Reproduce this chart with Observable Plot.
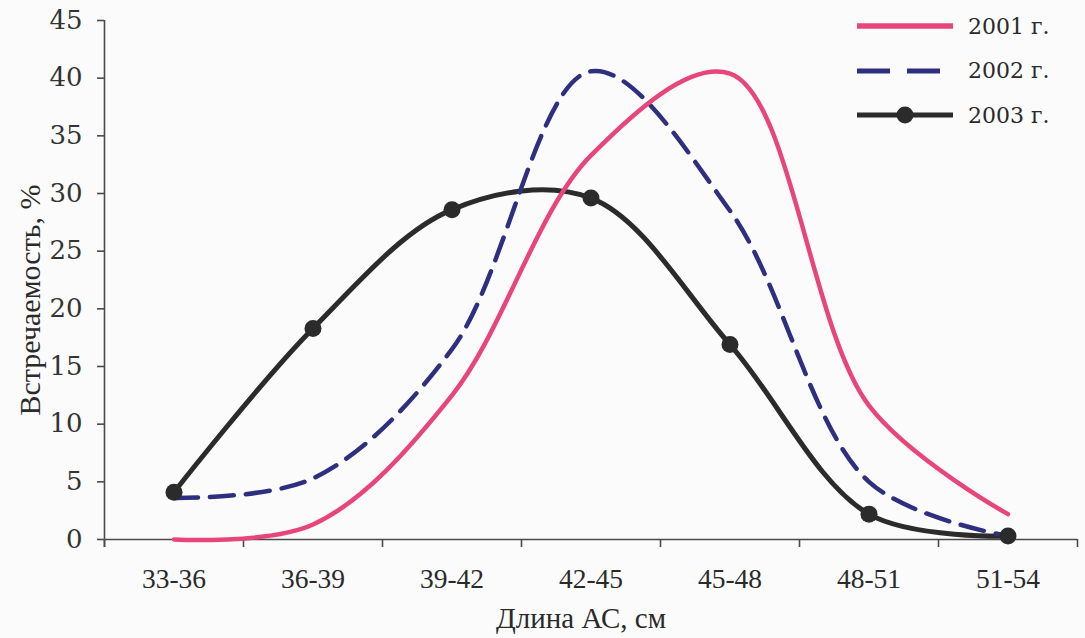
<!DOCTYPE html>
<html>
<head>
<meta charset="utf-8">
<script src="https://cdn.jsdelivr.net/npm/d3@7"></script>
<script src="https://cdn.jsdelivr.net/npm/@observablehq/plot@0.6"></script>
<style>
  html, body { margin: 0; padding: 0; background: #fbfbfc; }
  #wrap { position: relative; width: 1085px; height: 638px; }
  #legend { position: absolute; left: 855px; top: 4px; font-family: "DejaVu Serif", serif; font-size: 22px; color: #2a2a2a; }
  #legend .row { display: flex; align-items: center; height: 44.5px; }
  #legend svg { margin-right: 13px; }
</style>
</head>
<body>
<div id="wrap"><div id="legend"></div></div>
<script>
// Categories (length classes, cm)
const categories = ["33-36", "36-39", "39-42", "42-45", "45-48", "48-51", "51-54"];
// Occurrence, %
const values2001 = [0, 1.3, 12.5, 33.3, 40.4, 11.6, 2.2];
const values2002 = [3.6, 5.3, 16.5, 40.6, 28.5, 5.0, 0.3];
const values2003 = [4.1, 18.3, 28.6, 29.6, 16.9, 2.2, 0.3];
const seriesNames = ["2001 г.", "2002 г.", "2003 г."];
const yTicks = [0, 5, 10, 15, 20, 25, 30, 35, 40, 45];

const colors = {"2001 г.": "#e8467b", "2002 г.": "#2f2f80", "2003 г.": "#2b2b2b"};

const rows = [];
[values2001, values2002, values2003].forEach((vals, s) => {
  vals.forEach((v, i) => rows.push({series: seriesNames[s], i, cat: categories[i], value: v}));
});
const edges = d3.range(-0.5, categories.length, 1);

const axisColor = "#4a4a4a";
const chart = Plot.plot({
  width: 1085,
  height: 638,
  marginLeft: 104,
  marginRight: 8,
  marginTop: 20,
  marginBottom: 99,
  style: {background: "transparent", overflow: "visible"},
  x: {type: "linear", domain: [-0.5, categories.length - 0.5], axis: null},
  y: {domain: [0, 45], axis: null},
  marks: [
    // axis lines
    Plot.ruleY([0], {stroke: axisColor, strokeWidth: 1.6}),
    Plot.ruleX([-0.5], {stroke: axisColor, strokeWidth: 1.6, insetBottom: -8}),
    // y ticks and labels
    Plot.axisY({ticks: yTicks, tickSize: 7, tickPadding: 15, stroke: axisColor, strokeWidth: 1.6,
      fontFamily: "DejaVu Serif", fontSize: 26, fill: "#333", label: null}),
    // x ticks at class boundaries
    Plot.axisX({ticks: edges, tickSize: 8, stroke: axisColor, strokeWidth: 1.6, fill: "none", label: null}),
    // x labels at class centres
    Plot.axisX({ticks: d3.range(categories.length), tickSize: 0, tickPadding: 29,
      tickFormat: i => categories[i], fontFamily: "Liberation Serif", fontSize: 27.5, fill: "#2a2a2a", label: null}),
    // series
    Plot.line(rows.filter(d => d.series === "2003 г."), {x: "i", y: "value", stroke: colors["2003 г."], strokeWidth: 5, curve: "catmull-rom"}),
    Plot.line(rows.filter(d => d.series === "2002 г."), {x: "i", y: "value", stroke: colors["2002 г."], strokeWidth: 4.5, strokeDasharray: "24,12", curve: "catmull-rom"}),
    Plot.line(rows.filter(d => d.series === "2001 г."), {x: "i", y: "value", stroke: colors["2001 г."], strokeWidth: 4.5, curve: "catmull-rom"}),
    Plot.dot(rows.filter(d => d.series === "2003 г."), {x: "i", y: "value", r: 8.5, fill: colors["2003 г."], stroke: "none"}),
    // axis titles
    Plot.text(["Встречаемость, %"], {frameAnchor: "left", textAnchor: "middle", rotate: -90, dx: -74, dy: 20,
      fontFamily: "Liberation Serif", fontSize: 30, fill: "#2a2a2a"}),
    Plot.text(["Длина АС, см"], {frameAnchor: "bottom", dy: 88, dx: -10,
      fontFamily: "Liberation Serif", fontSize: 29, fill: "#2a2a2a"})
  ]
});
document.getElementById("wrap").prepend(chart);

// Legend
const legend = d3.select("#legend");
seriesNames.forEach(name => {
  const row = legend.append("div").attr("class", "row");
  const svg = row.append("svg").attr("width", 100).attr("height", 20);
  const line = svg.append("line").attr("x1", 2).attr("x2", 98).attr("y1", 10).attr("y2", 10)
    .attr("stroke", colors[name]).attr("stroke-width", name === "2001 г." ? 5.5 : 5);
  if (name === "2002 г.") line.attr("stroke-dasharray", "33,17");
  if (name === "2003 г.") svg.append("circle").attr("cx", 50).attr("cy", 10).attr("r", 8.5).attr("fill", colors[name]);
  row.append("span").text(name);
});
</script>
</body>
</html>
